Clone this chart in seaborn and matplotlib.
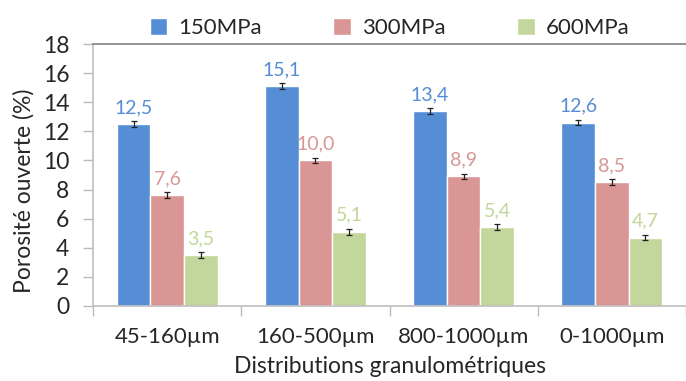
import numpy as np
import pandas as pd
import seaborn as sns
import matplotlib.pyplot as plt
from matplotlib.container import BarContainer

# Data
distributions = ["45-160µm", "160-500µm", "800-1000µm", "0-1000µm"]
pressures = ["150MPa", "300MPa", "600MPa"]
porosity_150 = [12.5, 15.1, 13.4, 12.6]
porosity_300 = [7.6, 10.0, 8.9, 8.5]
porosity_600 = [3.5, 5.1, 5.4, 4.7]
error_150 = [0.2, 0.2, 0.2, 0.2]
error_300 = [0.2, 0.2, 0.2, 0.2]
error_600 = [0.2, 0.2, 0.2, 0.2]

colors = ["#558ED5", "#D99694", "#C3D69B"]

df = pd.DataFrame({
    "Distribution": distributions * 3,
    "Pression": [p for p in pressures for _ in distributions],
    "Porosite": porosity_150 + porosity_300 + porosity_600,
    "Erreur": error_150 + error_300 + error_600,
})

sns.set_style("white")
plt.rcParams["font.family"] = ["Lato", "DejaVu Sans"]

fig = plt.figure(figsize=(6.86, 3.81), dpi=100)
ax = fig.add_axes([0.1356, 0.197, 0.8644, 0.6875])

sns.barplot(
    data=df, x="Distribution", y="Porosite", hue="Pression",
    order=distributions, hue_order=pressures, palette=colors,
    width=0.68, gap=0, errorbar=None, saturation=1, ax=ax,
    legend=True,
)

# error bars and value labels, one container per pressure
bars = [c for c in ax.containers if isinstance(c, BarContainer)][:3]
for i, container in enumerate(bars):
    sub = df[df["Pression"] == pressures[i]].set_index("Distribution").loc[distributions]
    xs = [b.get_x() + b.get_width() / 2 for b in container]
    ax.errorbar(xs, sub["Porosite"], yerr=sub["Erreur"], fmt="none",
                ecolor="#222222", elinewidth=0.9, capsize=2.5, capthick=0.9)
    for x, v, e in zip(xs, sub["Porosite"], sub["Erreur"]):
        ax.text(x, v + e + 0.35, f"{v:.1f}".replace(".", ","), ha="center",
                va="bottom", color=colors[i], fontsize=14)

ax.set_ylim(0, 18)
ax.set_yticks(np.arange(0, 19, 2))
ax.set_xlim(-0.5, 3.5)
ax.set_xticks(np.arange(-0.5, 4, 1), minor=True)
ax.tick_params(axis="x", which="major", length=0, labelsize=16, pad=15)
ax.tick_params(axis="x", which="minor", bottom=True, length=7, color="#BBBBBB", width=1)
ax.tick_params(axis="y", left=True, length=7, color="#BBBBBB", width=1, labelsize=16.5, pad=10)

for s in ["left", "bottom"]:
    ax.spines[s].set_color("#BFBFBF")
    ax.spines[s].set_linewidth(1.2)
ax.spines["right"].set_visible(False)
ax.spines["top"].set_color("#808080")
ax.spines["top"].set_linewidth(1.2)

ax.set_ylabel("Porosité ouverte (%)", fontsize=16.5)
ax.yaxis.set_label_coords(-0.098, 0.44)
ax.set_xlabel("Distributions granulométriques", fontsize=16.5, labelpad=7)

handles, labels = ax.get_legend_handles_labels()
ax.legend(handles, labels, loc="lower center", bbox_to_anchor=(0.5, 0.99),
          ncol=3, frameon=False, fontsize=16, handlelength=0.8, handleheight=0.8,
          columnspacing=3.2, handletextpad=0.5, borderaxespad=0)

fig.savefig("out.png", dpi=100)
